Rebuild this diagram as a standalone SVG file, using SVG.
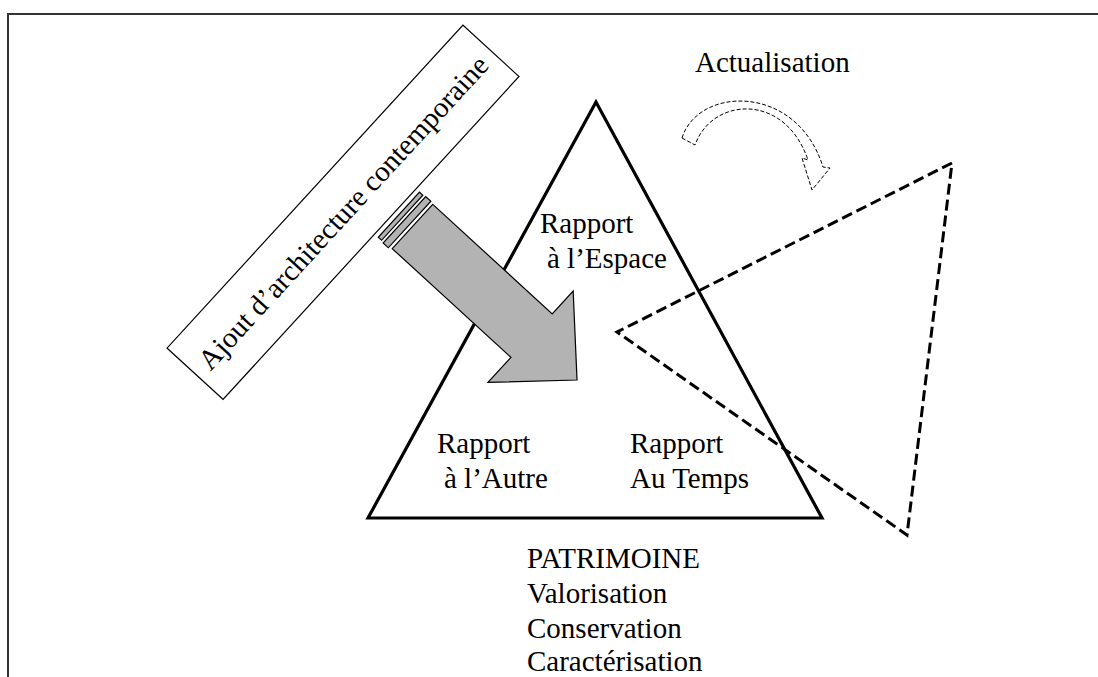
<svg xmlns="http://www.w3.org/2000/svg" width="1098" height="677" viewBox="0 0 1098 677">
<style>
text{font-family:"Liberation Serif","Times New Roman",serif;font-size:29px;fill:#000}
.gray{fill:#b3b3b3;stroke:#000;stroke-width:1.2}
</style>
<rect x="0" y="0" width="1098" height="677" fill="#fff"/>
<rect id="frame" x="8" y="14" width="1110" height="700" fill="none" stroke="#333" stroke-width="2"/>
<g id="triangle-patrimoine">
<polygon points="596,102 368,518 822,518" fill="none" stroke="#000" stroke-width="3.2" stroke-linejoin="miter"/>
<text x="540" y="233">Rapport</text>
<text x="547" y="268">à l’Espace</text>
<text x="437" y="453">Rapport</text>
<text x="444" y="488">à l’Autre</text>
<text x="630" y="453">Rapport</text>
<text x="630" y="488">Au Temps</text>
</g>
<g id="triangle-actualise">
<polygon points="952,163 617,332 907,535" fill="none" stroke="#000" stroke-width="3" stroke-dasharray="11,5"/>
</g>
<g id="ajout-box">
<g transform="translate(343,212.3) rotate(-47.5)">
<rect x="-219" y="-38" width="438" height="76" fill="#fff" stroke="#000" stroke-width="1.2"/>
<text x="0" y="10" text-anchor="middle" font-size="30">Ajout d’architecture contemporaine</text>
</g>
</g>
<g id="connectors">
<g id="fleche-ajout" transform="translate(412.5,226.5) rotate(42.5)">
<rect class="gray" x="-18" y="-30" width="4.5" height="61"/>
<rect class="gray" x="-10.5" y="-31" width="7" height="63"/>
<polygon class="gray" points="0,-30 162,-30 162,-61 225,2 161,64 161,30 0,30"/>
</g>
<g id="fleche-actualisation">
<path d="M682,138 C698,86 797,83 823,167 L830,168 L812,190 L802,158 L808,160 C785,92 712,97 695,145 Z" fill="#fff" stroke="#000" stroke-width="1" stroke-dasharray="4,2"/>
</g>
</g>
<g id="label-actualisation">
<text x="695" y="72">Actualisation</text>
</g>
<g id="label-patrimoine">
<text x="527" y="568">PATRIMOINE</text>
<text x="527" y="603">Valorisation</text>
<text x="527" y="638">Conservation</text>
<text x="527" y="671">Caractérisation</text>
</g>
</svg>
